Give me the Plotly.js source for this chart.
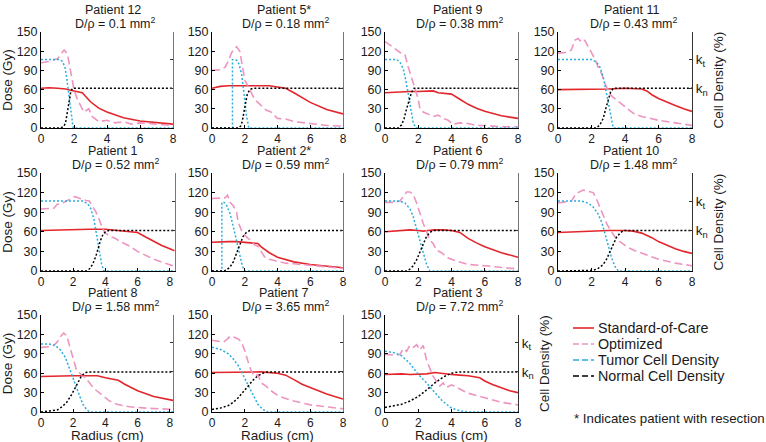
<!DOCTYPE html>
<html><head><meta charset="utf-8">
<script src="https://cdn.plot.ly/plotly-3.0.1.min.js"></script>
<style>html,body{margin:0;padding:0;background:#fff}#chart{width:766px;height:442px}</style>
</head><body><div id="chart"></div>
<script>
// ---------- labels ----------
const patients = ["Patient 12","Patient 5*","Patient 9","Patient 11","Patient 1","Patient 2*","Patient 6","Patient 10","Patient 8","Patient 7","Patient 3"];
const dRho = ["0.1","0.18","0.38","0.43","0.52","0.59","0.79","1.48","1.58","3.65","7.72"];
const xMax = [8,8,8,8,8.3,8,8,8,8.2,8,8];
const xTicks = [0,2,4,6,8];
const yTicks = [0,30,60,90,120,150];
const kLevels = [107,62];
const kLabels = ["k<sub>t</sub>","k<sub>n</sub>"];
const seriesNames = ["Standard-of-Care","Optimized","Tumor Cell Density","Normal Cell Density"];
const footNote = "* Indicates patient with resection";

// ---------- Patient 12 ----------
const p12SocR=[0,0.5,1,1.5,1.8,2.2,2.5,3,3.5,4,5,6,7,8];
const p12Soc =[62,63,62,61,59,57,55,41,31,25,16,11,8,6];
const p12OptR=[0,0.5,1,1.2,1.4,1.6,1.8,2.0,2.2,2.4,2.6,2.9,3.1,3.5,4,4.5,5,5.5,6,7,8];
const p12Opt =[102,104,108,116,122,116,85,60,45,35,25,30,18,10,12,8,10,6,8,6,4];
const p12TumR=[0,1.1,1.3,1.45,1.55,1.65,1.75,1.85,1.95,8];
const p12Tum =[107,107,104,95,80,60,35,12,0,0];
const p12NorR=[0,1.2,1.4,1.5,1.6,1.7,1.8,1.9,8];
const p12Nor =[0,0,3,10,25,42,56,62,62];
// ---------- Patient 5* ----------
const p5SocR=[0,0.5,1,2,3,3.5,4,4.5,5,5.5,6,7,8];
const p5Soc =[62,65,66,66,66,66,64,62,55,47,40,29,22];
const p5OptR=[0,0.5,0.8,1.0,1.2,1.4,1.5,1.7,1.8,1.9,2.0,2.2,2.4,2.6,2.8,3.0,3.3,3.6,4,4.5,5,6,7,8];
const p5Opt =[90,91,95,105,118,125,127,120,105,85,75,65,55,45,40,35,28,25,15,14,10,7,4,3];
const p5TumR=[0,1.25,1.25,1.5,1.65,1.8,1.95,2.1,2.25,8];
const p5Tum =[0,0,107,106,100,85,55,20,0,0];
const p5NorR=[0,1.6,1.75,1.85,1.95,2.05,2.15,2.3,2.5,8];
const p5Nor =[0,0,3,10,25,40,52,60,62,62];
// ---------- Patient 9 ----------
const p9SocR=[0,0.5,1,1.5,2,2.5,2.9,3.2,3.5,4,4.5,5,5.5,6,7,8];
const p9Soc =[55,56,57,57,57,58,58,55,54,53,45,37,31,26,19,15];
const p9OptR=[0,0.3,0.6,0.9,1.2,1.4,1.6,1.8,2.0,2.1,2.3,2.6,2.9,3.2,3.5,3.8,4.1,4.5,5,5.5,6,7,8];
const p9Opt =[135,130,124,118,115,95,80,62,45,30,25,22,18,20,15,12,6,8,7,4,4,2,2];
const p9TumR=[0,0.7,0.9,1.1,1.25,1.4,1.55,1.7,1.85,8];
const p9Tum =[107,107,103,92,75,52,28,8,0,0];
const p9NorR=[0,0.8,1.0,1.15,1.3,1.45,1.6,1.75,8];
const p9Nor =[0,0,5,15,30,45,56,62,62];
// ---------- Patient 11 ----------
const p11SocR=[0,1,2,3,4,4.5,5,5.3,5.6,6,6.5,7,7.5,8];
const p11Soc =[60,60,61,61,62,62,61,58,52,46,40,35,30,26];
const p11OptR=[0,0.5,0.8,1.0,1.2,1.4,1.6,1.8,2.0,2.2,2.4,2.6,2.8,3.0,3.2,3.5,4.0,4.5,5,6,7,8];
const p11Opt =[117,118,122,137,140,134,137,128,118,108,95,85,70,58,50,44,33,23,18,12,8,4];
const p11TumR=[0,2.0,2.3,2.5,2.7,2.85,3.0,3.15,3.3,8];
const p11Tum =[107,107,103,95,80,60,38,15,0,0];
const p11NorR=[0,2.3,2.5,2.7,2.85,3.0,3.15,3.3,8];
const p11Nor =[0,0,5,15,30,45,57,62,62];
// ---------- Patient 1 ----------
const p1SocR=[0,1,2,3,4,5,6,6.5,7,7.5,8,8.3];
const p1Soc =[62,63,64,64,64,62,59,52,45,39,34,31];
const p1OptR=[0,0.5,0.8,1.0,1.2,1.5,1.8,2.1,2.3,2.5,2.8,3.0,3.2,3.4,3.6,3.8,4.0,4.3,4.6,5,5.5,6,7,8,8.3];
const p1Opt =[95,95,96,102,103,106,110,114,112,110,108,107,100,91,80,66,58,53,50,44,38,30,18,9,7];
const p1TumR=[0,2.6,2.9,3.1,3.3,3.45,3.6,3.75,3.9,8.3];
const p1Tum =[107,107,103,95,78,58,35,12,0,0];
const p1NorR=[0,2.8,3.0,3.2,3.4,3.55,3.7,3.85,4.0,4.2,8.3];
const p1Nor =[0,0,3,10,22,35,47,56,60,62,62];
// ---------- Patient 2* ----------
const p2SocR=[0,0.5,1,1.5,2,2.5,2.8,3.0,3.5,4,4.5,5,6,7,8];
const p2Soc =[44,45,45,45,44,43,42,37,28,21,17,14,10,7,5];
const p2OptR=[0,0.5,0.8,0.95,1.1,1.3,1.5,1.6,1.8,2.0,2.2,2.4,2.6,2.8,3.0,3.2,3.5,4,4.5,5,6,7,8];
const p2Opt =[111,111,112,116,105,100,90,75,62,55,50,47,40,38,30,22,18,15,12,11,9,6,4];
const p2TumR=[0,0.6,0.6,0.75,0.9,1.1,1.3,1.5,1.7,1.85,2.0,8];
const p2Tum =[0,0,105,105,100,88,68,45,22,8,0,0];
const p2NorR=[0,0.75,0.9,1.1,1.3,1.5,1.7,1.9,2.1,2.3,8];
const p2Nor =[0,0,2,6,14,27,42,53,59,62,62];
// ---------- Patient 6 ----------
const p6SocR=[0,0.5,1,1.5,2,2.3,2.6,3,3.5,4,4.5,5,5.5,6,7,8];
const p6Soc =[60,61,62,63,62,61,62,63,63,62,59,50,43,37,28,21];
const p6OptR=[0,0.5,0.9,1.1,1.3,1.5,1.7,1.9,2.1,2.3,2.5,2.7,2.9,3.1,3.4,3.8,4.2,5,6,7,8];
const p6Opt =[105,105,107,115,121,121,117,104,88,73,60,47,42,32,28,20,16,10,8,6,3];
const p6TumR=[0,0.9,1.2,1.5,1.7,1.9,2.1,2.3,2.5,2.7,8];
const p6Tum =[107,107,104,95,83,65,45,25,10,0,0];
const p6NorR=[0,1.3,1.5,1.7,1.9,2.1,2.3,2.5,2.7,2.9,8];
const p6Nor =[0,0,3,8,17,30,43,53,59,62,62];
// ---------- Patient 10 ----------
const p10SocR=[0,1,2,3,4,4.5,5,5.3,5.6,6,6.5,7,7.5,8];
const p10Soc =[59,60,62,62,62,61,58,55,51,45,39,34,30,27];
const p10OptR=[0,0.5,0.8,1.0,1.2,1.5,1.8,2.1,2.3,2.5,2.7,2.9,3.1,3.4,3.7,4.1,4.6,5.3,6,7,8];
const p10Opt =[104,106,107,115,120,124,122,120,110,98,85,73,64,52,45,37,31,24,18,12,8];
const p10TumR=[0,1.4,1.8,2.1,2.4,2.6,2.8,3.0,3.2,3.4,3.6,8];
const p10Tum =[107,107,104,98,87,75,58,38,20,7,0,0];
const p10NorR=[0,1.8,2.1,2.4,2.7,2.9,3.1,3.3,3.5,3.7,3.9,8];
const p10Nor =[0,0,1,4,10,18,30,42,52,58,62,62];
// ---------- Patient 8 ----------
const p8SocR=[0,1,2,3,3.5,4,4.5,4.8,5.2,5.6,6,7,8,8.2];
const p8Soc =[55,56,56,56,56,53,51,49,43,38,33,24,19,18];
const p8OptR=[0,0.5,0.8,1.0,1.2,1.4,1.6,1.8,2.0,2.2,2.5,2.8,3.1,3.4,3.8,4.2,4.7,5.5,6.5,8.2];
const p8Opt =[100,101,103,108,116,122,118,101,82,65,58,52,42,34,26,18,12,8,6,4];
const p8TumR=[0,0.5,0.9,1.2,1.5,1.8,2.0,2.2,2.4,2.6,2.8,3.0,8.2];
const p8Tum =[105,105,103,96,85,67,52,38,24,12,5,0,0];
const p8NorR=[0,0.5,1.0,1.3,1.6,1.9,2.1,2.3,2.5,2.7,2.9,8.2];
const p8Nor =[0,1,3,8,15,27,37,47,55,60,62,62];
// ---------- Patient 7 ----------
const p7SocR=[0,1,2,3,4,4.5,5,5.5,6,7,8];
const p7Soc =[61,61,62,62,60,57,50,43,38,28,20];
const p7OptR=[0,0.4,0.7,0.9,1.1,1.3,1.6,1.8,2.0,2.2,2.4,2.6,2.8,3.0,3.3,3.6,4.1,5,6,7,8];
const p7Opt =[111,109,108,112,117,116,113,108,95,78,63,55,58,45,40,33,24,17,11,8,5];
const p7TumR=[0,0.5,1.0,1.3,1.6,1.9,2.2,2.5,2.8,3.1,3.4,8];
const p7Tum =[100,97,90,82,72,57,40,25,12,4,0,0];
const p7NorR=[0,0.5,1.0,1.3,1.6,1.9,2.2,2.5,2.8,3.1,3.4,8];
const p7Nor =[4,6,10,15,22,31,40,49,56,60,62,62];
// ---------- Patient 3 ----------
const p3SocR=[0,0.5,1,1.5,2,2.5,3,3.5,4,4.5,5,5.7,6,6.5,7,7.5,8];
const p3Soc =[58,59,59,58,58,59,61,59,58,57,56,53,48,42,37,33,30];
const p3OptR=[0,0.5,0.9,1.1,1.3,1.5,1.7,1.9,2.1,2.3,2.5,2.7,2.9,3.1,3.3,3.5,3.7,4.0,4.5,5,6,7,8];
const p3Opt =[89,88,89,98,94,103,100,104,96,103,80,66,55,47,40,45,38,42,36,29,22,15,11];
const p3TumR=[0,0.5,1,1.5,2,2.5,3,3.5,4,4.5,5,5.5,8];
const p3Tum =[94,92,87,75,58,45,30,16,6,2,0,0,0];
const p3NorR=[0,0.5,1,1.5,2,2.5,3,3.5,4,4.5,8];
const p3Nor =[7,9,12,17,24,34,45,54,60,62,62];

const socR=[p12SocR,p5SocR,p9SocR,p11SocR,p1SocR,p2SocR,p6SocR,p10SocR,p8SocR,p7SocR,p3SocR];
const soc =[p12Soc,p5Soc,p9Soc,p11Soc,p1Soc,p2Soc,p6Soc,p10Soc,p8Soc,p7Soc,p3Soc];
const optR=[p12OptR,p5OptR,p9OptR,p11OptR,p1OptR,p2OptR,p6OptR,p10OptR,p8OptR,p7OptR,p3OptR];
const opt =[p12Opt,p5Opt,p9Opt,p11Opt,p1Opt,p2Opt,p6Opt,p10Opt,p8Opt,p7Opt,p3Opt];
const tumR=[p12TumR,p5TumR,p9TumR,p11TumR,p1TumR,p2TumR,p6TumR,p10TumR,p8TumR,p7TumR,p3TumR];
const tum =[p12Tum,p5Tum,p9Tum,p11Tum,p1Tum,p2Tum,p6Tum,p10Tum,p8Tum,p7Tum,p3Tum];
const norR=[p12NorR,p5NorR,p9NorR,p11NorR,p1NorR,p2NorR,p6NorR,p10NorR,p8NorR,p7NorR,p3NorR];
const nor =[p12Nor,p5Nor,p9Nor,p11Nor,p1Nor,p2Nor,p6Nor,p10Nor,p8Nor,p7Nor,p3Nor];

// ---------- layout ----------
const W=766,H=442;
const FONT='"Liberation Sans", Arial, Helvetica, sans-serif';
const TXT='#1a1a1a';
const colPx=[[41,173],[212,343],[385,518],[558,692]];
const rowPx=[[32,128],[173,271],[315,412]];
const grid=[[0,0],[0,1],[0,2],[0,3],[1,0],[1,1],[1,2],[1,3],[2,0],[2,1],[2,2]];
const rightLabeled=[false,false,false,true,false,false,false,true,false,false,true];
const colors=['#e3262b','#ee94c2','#2aaee0','#000000'];
const lineStyles=[
  {color:colors[0],width:1.6},
  {color:colors[1],width:1.6,dash:'8px,4px'},
  {color:colors[2],width:1.5,dash:'2px,2px'},
  {color:colors[3],width:1.5,dash:'2px,2px'}];
const legendDash=['solid','6px,3px','6px,3px','6px,3px'];

const data=[];
const layout={
  width:W,height:H,margin:{l:0,r:0,t:0,b:0},
  paper_bgcolor:'#fff',plot_bgcolor:'rgba(0,0,0,0)',
  font:{family:FONT,size:12,color:TXT},
  showlegend:false,
  annotations:[],shapes:[],
};

patients.forEach((p,i)=>{
  const [row,col]=grid[i];
  const n=i+1, s=(n===1?'':String(n));
  const xa='x'+s, ya='y'+s, yr='y'+(12+i);
  const px=colPx[col].slice();
  if (xMax[i]>8) px[1]=41+xMax[i]*16.1;
  const py=rowPx[row];
  const dx=[px[0]/W,px[1]/W], dy=[1-py[1]/H,1-py[0]/H];
  const xs=[socR[i],optR[i],tumR[i],norR[i]], ys=[soc[i],opt[i],tum[i],nor[i]];
  for (let k=0;k<4;k++){
    data.push({x:xs[k],y:ys[k],xaxis:xa,yaxis:(k<2?ya:yr),mode:'lines',name:seriesNames[k],
      line:lineStyles[k],hoverinfo:'skip'});
  }
  const xKey='xaxis'+s, yKey='yaxis'+s, rKey='yaxis'+(12+i);
  layout[xKey]={domain:dx,anchor:ya,range:[0,xMax[i]],tickvals:xTicks,ticks:'inside',ticklen:3,tickcolor:'#000',
    showline:true,linecolor:'#000',linewidth:1,zeroline:false,showgrid:false,fixedrange:true,
    tickfont:{size:12,color:TXT}};
  layout[yKey]={domain:dy,anchor:xa,range:[0,150],tickvals:yTicks,ticks:'inside',ticklen:3,tickcolor:'#000',
    showline:true,linecolor:'#000',linewidth:1,zeroline:false,showgrid:false,fixedrange:true,
    tickfont:{size:12.5,color:TXT}};
  if (col===0) layout[yKey].title={text:'Dose (Gy)',font:{size:13.5,color:TXT},standoff:2};
  layout[rKey]={overlaying:ya,side:'right',anchor:xa,range:[0,150],tickvals:kLevels,ticktext:kLabels,
    showticklabels:rightLabeled[i],ticks:'inside',ticklen:3,tickcolor:'#333',
    showline:true,linecolor:rightLabeled[i]?'#333':'#777',linewidth:1,zeroline:false,showgrid:false,fixedrange:true,
    tickfont:{size:13.5,color:TXT}};
  if (rightLabeled[i]) layout[rKey].title={text:'Cell Density (%)',font:{size:13.5,color:TXT},standoff:6};

  // x-axis title for the bottom row, placed tight under the tick labels
  if (row===2) layout.annotations.push({xref:'paper',yref:'paper',x:(px[0]+px[1])/2/W,y:1-435/H,
    text:'Radius (cm)',showarrow:false,xanchor:'center',yanchor:'middle',font:{size:13.5,color:TXT}});

  const cx=(colPx[col][0]+colPx[col][1])/2+6;
  layout.annotations.push({xref:'paper',yref:'paper',x:cx/W,y:1-(py[0]-22)/H,text:p,showarrow:false,
    xanchor:'center',yanchor:'middle',font:{size:12.5,color:TXT}});
  layout.annotations.push({xref:'paper',yref:'paper',x:(cx+2)/W,y:1-(py[0]-9)/H,text:'D/ρ = '+dRho[i]+' mm<sup>2</sup>',showarrow:false,
    xanchor:'center',yanchor:'middle',font:{size:12.5,color:TXT}});
});

// legend (drawn as key lines + labels)
const legY=[328,344,360,376];
seriesNames.forEach((nm,k)=>{
  layout.shapes.push({type:'line',xref:'paper',yref:'paper',x0:573/W,x1:594/W,y0:1-legY[k]/H,y1:1-legY[k]/H,
    line:{color:colors[k],width:1.6,dash:legendDash[k]}});
  layout.annotations.push({xref:'paper',yref:'paper',x:596/W,y:1-legY[k]/H,xanchor:'left',yanchor:'middle',
    text:nm,showarrow:false,font:{size:14.3,color:TXT}});
});
layout.annotations.push({xref:'paper',yref:'paper',x:572/W,y:1-418/H,xanchor:'left',yanchor:'middle',
  text:footNote,showarrow:false,font:{size:13.3,color:TXT}});

Plotly.newPlot('chart',data,layout,{displayModeBar:false,staticPlot:true});
</script></body></html>
